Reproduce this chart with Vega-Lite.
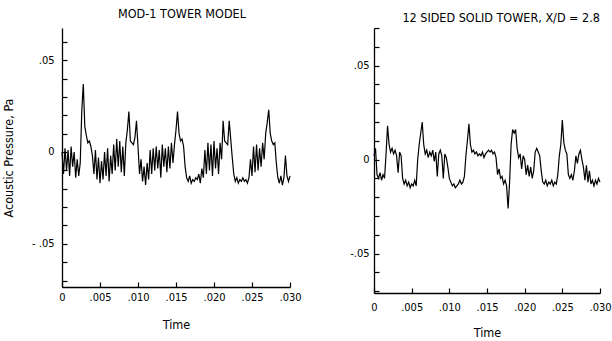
{
  "$schema": "https://vega.github.io/schema/vega-lite/v6.json",
  "background": "white",
  "padding": {"left": 2, "top": 7, "right": 4, "bottom": 2},
  "spacing": 84,
  "bounds": "flush",
  "config": {
    "view": {"stroke": null},
    "font": "DejaVu Sans Condensed",
    "axis": {"grid": false, "ticks": true, "domainColor": "black", "domainWidth": 1.3, "tickColor": "black", "tickWidth": 1.2, "labelColor": "black", "titleColor": "black", "labelFont": "DejaVu Sans Condensed", "titleFont": "DejaVu Sans Condensed", "labelFontSize": 11, "titleFontSize": 12.5, "titleFontWeight": "normal"},
    "title": {"font": "DejaVu Sans Condensed", "fontSize": 12.5, "fontWeight": "normal", "color": "black", "frame": "group"}
  },
  "datasets": {
    "left": [
      {"t":0,"p":0},{"t":0.0002,"p":-0.012},{"t":0.0004,"p":0.002},{"t":0.0006,"p":-0.010},{"t":0.0008,"p":0.001},
      {"t":0.001,"p":-0.013},{"t":0.0012,"p":0.003},{"t":0.0014,"p":-0.008},{"t":0.0016,"p":0},{"t":0.0018,"p":-0.014},
      {"t":0.002,"p":-0.004},{"t":0.0022,"p":-0.013},{"t":0.0024,"p":-0.006},{"t":0.0026,"p":0.022},{"t":0.0028,"p":0.037},
      {"t":0.003,"p":0.014},{"t":0.0032,"p":0.009},{"t":0.0034,"p":0.005},{"t":0.0036,"p":0.006},{"t":0.0038,"p":0.003},
      {"t":0.004,"p":-0.002},{"t":0.0042,"p":-0.012},{"t":0.0044,"p":0.001},{"t":0.0046,"p":-0.015},{"t":0.0048,"p":-0.003},
      {"t":0.005,"p":-0.017},{"t":0.0052,"p":-0.005},{"t":0.0054,"p":-0.015},{"t":0.0056,"p":0},{"t":0.0058,"p":-0.013},
      {"t":0.006,"p":0.002},{"t":0.0062,"p":-0.016},{"t":0.0064,"p":-0.002},{"t":0.0066,"p":-0.012},{"t":0.0068,"p":0.004},
      {"t":0.007,"p":-0.010},{"t":0.0072,"p":0.007},{"t":0.0074,"p":-0.008},{"t":0.0076,"p":0.006},{"t":0.0078,"p":-0.011},
      {"t":0.008,"p":0.003},{"t":0.0082,"p":-0.013},{"t":0.0084,"p":0.005},{"t":0.0086,"p":0.012},{"t":0.0088,"p":0.022},
      {"t":0.009,"p":0.006},{"t":0.0092,"p":0.005},{"t":0.0094,"p":0.004},{"t":0.0096,"p":0.008},{"t":0.0098,"p":0.017},
      {"t":0.01,"p":0.003},{"t":0.0102,"p":-0.012},{"t":0.0104,"p":-0.004},{"t":0.0106,"p":-0.016},{"t":0.0108,"p":-0.008},
      {"t":0.011,"p":-0.018},{"t":0.0112,"p":-0.006},{"t":0.0114,"p":-0.015},{"t":0.0116,"p":0.001},{"t":0.0118,"p":-0.012},
      {"t":0.012,"p":0.002},{"t":0.0122,"p":-0.010},{"t":0.0124,"p":0.003},{"t":0.0126,"p":-0.009},{"t":0.0128,"p":0.001},
      {"t":0.013,"p":-0.014},{"t":0.0132,"p":0.004},{"t":0.0134,"p":-0.008},{"t":0.0136,"p":0.002},{"t":0.0138,"p":-0.011},
      {"t":0.014,"p":0.003},{"t":0.0142,"p":-0.009},{"t":0.0144,"p":0.005},{"t":0.0146,"p":-0.006},{"t":0.0148,"p":0.004},
      {"t":0.015,"p":0.012},{"t":0.0152,"p":0.022},{"t":0.0154,"p":0.010},{"t":0.0156,"p":0.006},{"t":0.0158,"p":0.007},
      {"t":0.016,"p":0.003},{"t":0.0162,"p":-0.008},{"t":0.0164,"p":-0.014},{"t":0.0166,"p":-0.016},{"t":0.0168,"p":-0.013},
      {"t":0.017,"p":-0.017},{"t":0.0172,"p":-0.015},{"t":0.0174,"p":-0.016},{"t":0.0176,"p":-0.014},{"t":0.0178,"p":-0.015},
      {"t":0.018,"p":-0.012},{"t":0.0182,"p":-0.017},{"t":0.0184,"p":-0.009},{"t":0.0186,"p":-0.014},{"t":0.0188,"p":0.001},
      {"t":0.019,"p":-0.012},{"t":0.0192,"p":0.005},{"t":0.0194,"p":-0.010},{"t":0.0196,"p":0.004},{"t":0.0198,"p":-0.013},
      {"t":0.02,"p":0.006},{"t":0.0202,"p":-0.009},{"t":0.0204,"p":0.002},{"t":0.0206,"p":-0.012},{"t":0.0208,"p":0.005},
      {"t":0.021,"p":-0.004},{"t":0.0212,"p":0.017},{"t":0.0214,"p":0.006},{"t":0.0216,"p":0.005},{"t":0.0218,"p":0.004},
      {"t":0.022,"p":0.017},{"t":0.0222,"p":0.007},{"t":0.0224,"p":-0.003},{"t":0.0226,"p":-0.012},{"t":0.0228,"p":-0.016},
      {"t":0.023,"p":-0.014},{"t":0.0232,"p":-0.017},{"t":0.0234,"p":-0.015},{"t":0.0236,"p":-0.016},{"t":0.0238,"p":-0.014},
      {"t":0.024,"p":-0.016},{"t":0.0242,"p":-0.015},{"t":0.0244,"p":-0.017},{"t":0.0246,"p":-0.014},{"t":0.0248,"p":-0.004},
      {"t":0.025,"p":-0.013},{"t":0.0252,"p":0.003},{"t":0.0254,"p":-0.011},{"t":0.0256,"p":0.004},{"t":0.0258,"p":-0.010},
      {"t":0.026,"p":0.002},{"t":0.0262,"p":-0.008},{"t":0.0264,"p":0.005},{"t":0.0266,"p":-0.004},{"t":0.0268,"p":0.010},
      {"t":0.027,"p":0.016},{"t":0.0272,"p":0.023},{"t":0.0274,"p":0.010},{"t":0.0276,"p":0.006},{"t":0.0278,"p":0.004},
      {"t":0.028,"p":0.005},{"t":0.0282,"p":-0.006},{"t":0.0284,"p":-0.014},{"t":0.0286,"p":-0.017},{"t":0.0288,"p":-0.013},
      {"t":0.029,"p":-0.018},{"t":0.0292,"p":-0.014},{"t":0.0294,"p":-0.002},{"t":0.0296,"p":-0.013},{"t":0.0298,"p":-0.016},
      {"t":0.03,"p":-0.013}
    ],
    "right": [
      {"t":0,"p":0.002},{"t":0.0002,"p":0.006},{"t":0.0004,"p":-0.008},{"t":0.0006,"p":-0.010},{"t":0.0008,"p":-0.007},
      {"t":0.001,"p":-0.011},{"t":0.0012,"p":-0.008},{"t":0.0014,"p":-0.010},{"t":0.0016,"p":0.003},{"t":0.0018,"p":0.018},
      {"t":0.002,"p":0.008},{"t":0.0022,"p":0.004},{"t":0.0024,"p":0.006},{"t":0.0026,"p":0.003},{"t":0.0028,"p":0.005},
      {"t":0.003,"p":0.002},{"t":0.0032,"p":-0.007},{"t":0.0034,"p":0.004},{"t":0.0036,"p":0.002},{"t":0.0038,"p":-0.010},
      {"t":0.004,"p":-0.013},{"t":0.0042,"p":-0.011},{"t":0.0044,"p":-0.014},{"t":0.0046,"p":-0.012},{"t":0.0048,"p":-0.015},
      {"t":0.005,"p":-0.013},{"t":0.0052,"p":-0.014},{"t":0.0054,"p":-0.011},{"t":0.0056,"p":-0.014},{"t":0.0058,"p":0},
      {"t":0.006,"p":0.008},{"t":0.0062,"p":0.014},{"t":0.0064,"p":0.020},{"t":0.0066,"p":0.008},{"t":0.0068,"p":0.003},
      {"t":0.007,"p":0.005},{"t":0.0072,"p":0.001},{"t":0.0074,"p":0.004},{"t":0.0076,"p":0.002},{"t":0.0078,"p":0.005},
      {"t":0.008,"p":-0.001},{"t":0.0082,"p":0.004},{"t":0.0084,"p":-0.009},{"t":0.0086,"p":0.003},{"t":0.0088,"p":0.005},
      {"t":0.009,"p":0.002},{"t":0.0092,"p":-0.010},{"t":0.0094,"p":0.003},{"t":0.0096,"p":0.001},{"t":0.0098,"p":-0.004},
      {"t":0.01,"p":-0.010},{"t":0.0102,"p":-0.012},{"t":0.0104,"p":-0.014},{"t":0.0106,"p":-0.013},{"t":0.0108,"p":-0.015},
      {"t":0.011,"p":-0.014},{"t":0.0112,"p":-0.013},{"t":0.0114,"p":-0.011},{"t":0.0116,"p":-0.013},{"t":0.0118,"p":-0.012},
      {"t":0.012,"p":-0.009},{"t":0.0122,"p":0.002},{"t":0.0124,"p":0.010},{"t":0.0126,"p":0.019},{"t":0.0128,"p":0.008},
      {"t":0.013,"p":0.004},{"t":0.0132,"p":0.005},{"t":0.0134,"p":0.003},{"t":0.0136,"p":0.004},{"t":0.0138,"p":0.002},
      {"t":0.014,"p":0.003},{"t":0.0142,"p":0.002},{"t":0.0144,"p":0.004},{"t":0.0146,"p":0.001},{"t":0.0148,"p":0.003},
      {"t":0.015,"p":0.004},{"t":0.0152,"p":0.005},{"t":0.0154,"p":0.004},{"t":0.0156,"p":0.005},{"t":0.0158,"p":0.003},
      {"t":0.016,"p":0.004},{"t":0.0162,"p":0.001},{"t":0.0164,"p":-0.008},{"t":0.0166,"p":-0.005},{"t":0.0168,"p":-0.010},
      {"t":0.017,"p":-0.009},{"t":0.0172,"p":-0.013},{"t":0.0174,"p":-0.011},{"t":0.0176,"p":-0.014},{"t":0.0178,"p":-0.026},
      {"t":0.018,"p":-0.012},{"t":0.0182,"p":0.008},{"t":0.0184,"p":0.016},{"t":0.0186,"p":0.014},{"t":0.0188,"p":0.016},
      {"t":0.019,"p":0.006},{"t":0.0192,"p":0.001},{"t":0.0194,"p":0.003},{"t":0.0196,"p":-0.005},{"t":0.0198,"p":0.002},
      {"t":0.02,"p":0},{"t":0.0202,"p":-0.008},{"t":0.0204,"p":-0.003},{"t":0.0206,"p":-0.009},{"t":0.0208,"p":-0.004},
      {"t":0.021,"p":-0.010},{"t":0.0212,"p":-0.006},{"t":0.0214,"p":0.004},{"t":0.0216,"p":0.006},{"t":0.0218,"p":0.004},
      {"t":0.022,"p":0.002},{"t":0.0222,"p":-0.006},{"t":0.0224,"p":-0.012},{"t":0.0226,"p":-0.013},{"t":0.0228,"p":-0.011},
      {"t":0.023,"p":-0.014},{"t":0.0232,"p":-0.012},{"t":0.0234,"p":-0.013},{"t":0.0236,"p":-0.011},{"t":0.0238,"p":-0.014},
      {"t":0.024,"p":-0.012},{"t":0.0242,"p":-0.013},{"t":0.0244,"p":-0.008},{"t":0.0246,"p":0.002},{"t":0.0248,"p":0.008},
      {"t":0.025,"p":0.021},{"t":0.0252,"p":0.009},{"t":0.0254,"p":0.005},{"t":0.0256,"p":0.003},{"t":0.0258,"p":-0.008},
      {"t":0.026,"p":-0.010},{"t":0.0262,"p":-0.008},{"t":0.0264,"p":-0.011},{"t":0.0266,"p":-0.006},{"t":0.0268,"p":0.002},
      {"t":0.027,"p":-0.002},{"t":0.0272,"p":0.003},{"t":0.0274,"p":0.005},{"t":0.0276,"p":0},{"t":0.0278,"p":-0.004},
      {"t":0.028,"p":-0.011},{"t":0.0282,"p":-0.003},{"t":0.0284,"p":-0.012},{"t":0.0286,"p":-0.006},{"t":0.0288,"p":-0.013},
      {"t":0.029,"p":-0.011},{"t":0.0292,"p":-0.014},{"t":0.0294,"p":-0.011},{"t":0.0296,"p":-0.013},{"t":0.0298,"p":-0.010},
      {"t":0.03,"p":-0.012}
    ]
  },
  "hconcat": [
    {
      "width": 228,
      "height": 259,
      "title": {"text": "MOD-1 TOWER MODEL", "anchor": "middle", "dx": 6, "offset": 8},
      "data": {"name": "left"},
      "mark": {"type": "line", "color": "black", "strokeWidth": 1.2},
      "encoding": {
        "x": {"field": "t", "type": "quantitative", "scale": {"domain": [0, 0.03], "nice": false},
          "axis": {"title": "Time", "ticks": true, "tickSize": -5, "values": [0, 0.005, 0.01, 0.015, 0.02, 0.025, 0.03], "labelExpr": "datum.value == 0 ? '0' : replace(format(datum.value, '.3f'), '0.', '.')", "labelPadding": 9, "titlePadding": 16, "labelFlush": false}},
        "y": {"field": "p", "type": "quantitative", "scale": {"domain": [-0.0735, 0.0675], "nice": false, "zero": false},
          "axis": {"title": "Acoustic Pressure, Pa", "ticks": true, "tickSize": -5, "values": [-0.07, -0.06, -0.05, -0.04, -0.03, -0.02, -0.01, 0, 0.01, 0.02, 0.03, 0.04, 0.05, 0.06], "labelExpr": "abs(datum.value - 0.05) < 0.001 ? '.05' : abs(datum.value) < 0.001 ? '0' : abs(datum.value + 0.05) < 0.001 ? '- .05' : ''", "labelPadding": 13, "titlePadding": 16, "labelFlush": false}}
      }
    },
    {
      "width": 226,
      "height": 265,
      "title": {"text": "12 SIDED SOLID TOWER, X/D = 2.8", "anchor": "end", "offset": 3},
      "data": {"name": "right"},
      "mark": {"type": "line", "color": "black", "strokeWidth": 1.2},
      "encoding": {
        "x": {"field": "t", "type": "quantitative", "scale": {"domain": [0, 0.03], "nice": false},
          "axis": {"title": "Time", "ticks": true, "tickSize": -5, "values": [0, 0.005, 0.01, 0.015, 0.02, 0.025, 0.03], "labelExpr": "datum.value == 0 ? '0' : replace(format(datum.value, '.3f'), '0.', '.')", "labelPadding": 13, "titlePadding": 14, "labelFlush": false}},
        "y": {"field": "p", "type": "quantitative", "scale": {"domain": [-0.071, 0.07], "nice": false, "zero": false},
          "axis": {"title": null, "ticks": true, "tickSize": -5, "values": [-0.07, -0.06, -0.05, -0.04, -0.03, -0.02, -0.01, 0, 0.01, 0.02, 0.03, 0.04, 0.05, 0.06, 0.07], "labelExpr": "abs(datum.value - 0.05) < 0.001 ? '.05' : abs(datum.value) < 0.001 ? '0' : abs(datum.value + 0.05) < 0.001 ? '-.05' : ''", "labelPadding": 10, "labelFlush": false}}
      }
    }
  ]
}
